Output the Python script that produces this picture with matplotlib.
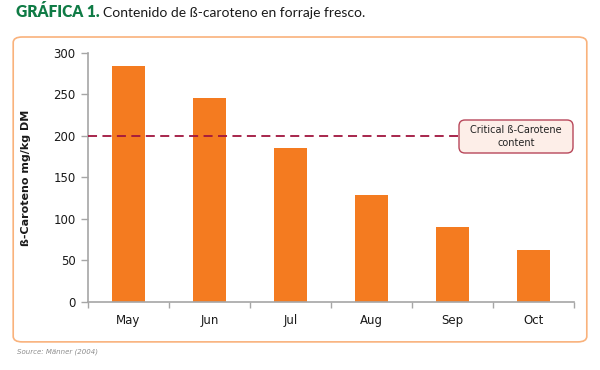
import matplotlib
matplotlib.use("Agg")
import matplotlib.pyplot as plt
from matplotlib.patches import FancyBboxPatch

months = ["May", "Jun", "Jul", "Aug", "Sep", "Oct"]
carotene = [284, 246, 185, 129, 90, 63]
critical = 200
yticks = [0, 50, 100, 150, 200, 250, 300]

bar_color = "#F47B20"
axis_gray = "#A6A6A6"
line_red = "#A0153E"

fig = plt.figure(figsize=(6, 3.7), dpi=100)

# orange rounded frame around the chart
frame = FancyBboxPatch((0.022, 0.076), 0.956, 0.824,
                       boxstyle="round,pad=0,rounding_size=0.015",
                       transform=fig.transFigure, fill=False,
                       edgecolor="#F9B27C", linewidth=1.2)
fig.patches.append(frame)

# title
t1 = fig.text(0.026, 0.955, "GRÁFICA 1.", color="#0F7B45", fontsize=11.2,
              fontweight="heavy", family="Lato", va="baseline")
fig.canvas.draw()
bb = t1.get_window_extent()
fig.text(bb.x1 / fig.bbox.width + 0.007, 0.955,
         "Contenido de ß-caroteno en forraje fresco.", color="#1A1A1A",
         fontsize=10, family="Lato", va="baseline")

fig.text(0.028, 0.045, "Source: Männer (2004)", color="#8C8C8C",
         fontsize=5, style="italic")

ax = fig.add_axes([0.1467, 0.1838, 0.81, 0.673])
x = list(range(len(months)))
ax.bar(x, carotene, width=0.41, color=bar_color, zorder=2)
ax.set_xlim(-0.5, len(months) - 0.5)
ax.set_ylim(0, 300)
ax.set_yticks(yticks)
ax.set_xticks(x)
ax.set_xticklabels(months, fontsize=8.5, color="#1A1A1A")
ax.set_xticks([i - 0.5 for i in range(len(months) + 1)], minor=True)
ax.tick_params(axis="x", which="major", length=0, pad=9)
ax.tick_params(axis="x", which="minor", length=4, color=axis_gray, width=1)
ax.tick_params(axis="y", length=5, color=axis_gray, width=1, labelsize=8.5,
               labelcolor="#1A1A1A", pad=4)

for side in ["top", "right"]:
    ax.spines[side].set_visible(False)
for side in ["left", "bottom"]:
    ax.spines[side].set_color(axis_gray)
    ax.spines[side].set_linewidth(1.2)

ax.set_ylabel("ß-Caroteno mg/kg DM", fontsize=8, fontweight="bold",
              color="#1A1A1A", labelpad=16)

ax.plot([-0.5, 4.07], [critical, critical], color=line_red, linewidth=1.3,
        linestyle=(0, (5, 3)), zorder=3)

# annotation box, sized in inches
note = FancyBboxPatch((4.59, 2.17), 1.14, 0.33,
                      boxstyle="round,pad=0,rounding_size=0.06",
                      transform=fig.dpi_scale_trans, fc="#FDEEE8",
                      ec="#B8475A", lw=1, zorder=4)
fig.patches.append(note)
fig.text(5.16 / 6, 2.335 / 3.7, "Critical ß-Carotene\ncontent", fontsize=7,
         ha="center", va="center", color="#222222", zorder=5,
         linespacing=1.3)

fig.savefig("out.png", dpi=100)
